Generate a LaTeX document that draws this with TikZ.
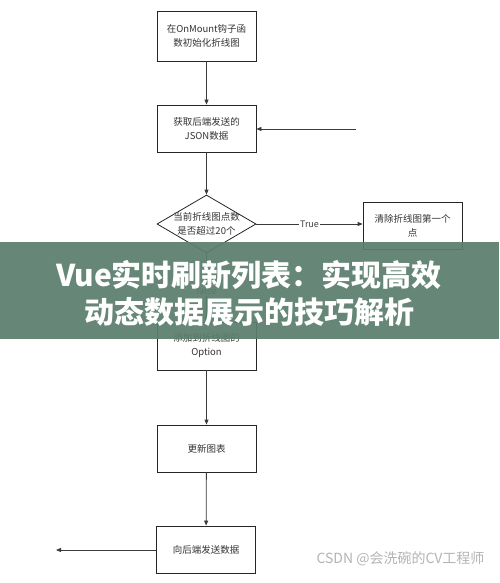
\documentclass[tikz,border=0pt]{standalone}
\usepackage{fontspec}
\newfontfamily\cjk{Noto Sans CJK SC}
\usetikzlibrary{shapes.geometric,arrows.meta}
\definecolor{banner}{HTML}{5B7E6D}
\definecolor{linec}{HTML}{3A3A3A}
\definecolor{wm}{HTML}{B4B4B4}
\begin{document}
\begin{tikzpicture}[x=1pt,y=-1pt,
  box/.style={draw=black!85,line width=0.8pt,minimum width=99pt,minimum height=47pt,inner sep=0pt,align=center,font=\cjk\fontsize{9.5}{14}\selectfont,text=black!80},
  conn/.style={draw=linec,line width=0.8pt,-{Triangle[length=5pt,width=4pt]}},
  lbl/.style={font=\cjk\fontsize{9}{11}\selectfont,text=black!75,fill=white,inner sep=1pt}]
\useasboundingbox (0,0) rectangle (499,583);
\fill[white] (0,0) rectangle (499,583);
\node[box,minimum height=50pt] (b1) at (206.5,36) {在OnMount钩子函\\数初始化折线图};
\node[box] (b2) at (206.5,128.5) {获取后端发送的\\JSON数据};
\coordinate (in) at (356,129);
\node[diamond,draw=black!85,line width=0.8pt,minimum width=99pt,minimum height=58pt,inner sep=0pt] (d) at (206.5,224) {};
\node[box,draw=none,fill=none] (dt) at (206.5,224) {当前折线图点数\\是否超过20个};
\node[box,minimum width=99pt] (b3) at (412.5,225.5) {清除折线图第一个\\点};
\node[box,minimum height=48pt] (b4) at (206.5,346) {添加到折线图的\\Option};
\node[box] (b5) at (206.5,448.5) {更新图表};
\node[box] (b6) at (206,549.5) {向后端发送数据};
\coordinate (out) at (56,550);
\draw[conn] (b1) -- (b2);
\draw[conn] (in) -- (b2.east |- in);
\draw[conn] (b2) -- (d.north);
\draw[conn] (d.east) -- node[lbl,pos=0.5]{True} (b3.west |- d.east);
\draw[conn] (d.south) -- node[lbl,pos=0.55]{false} (b4);
\draw[conn] (b4) -- (b5);
\draw[conn] (b5) -- (b6);
\draw[conn] (b6.west |- out) -- (out);
\fill[banner,opacity=0.93] (0,242) rectangle (499,339);
\node[font=\cjk\bfseries\fontsize{30}{37}\selectfont,text=white,align=center] (title) at (249,293) {Vue实时刷新列表：实现高效\\动态数据展示的技巧解析};
\node[font=\cjk\fontsize{14}{16}\selectfont,text=wm,anchor=east] (wmk) at (488,559) {CSDN @会洗碗的CV工程师};
\end{tikzpicture}
\end{document}
